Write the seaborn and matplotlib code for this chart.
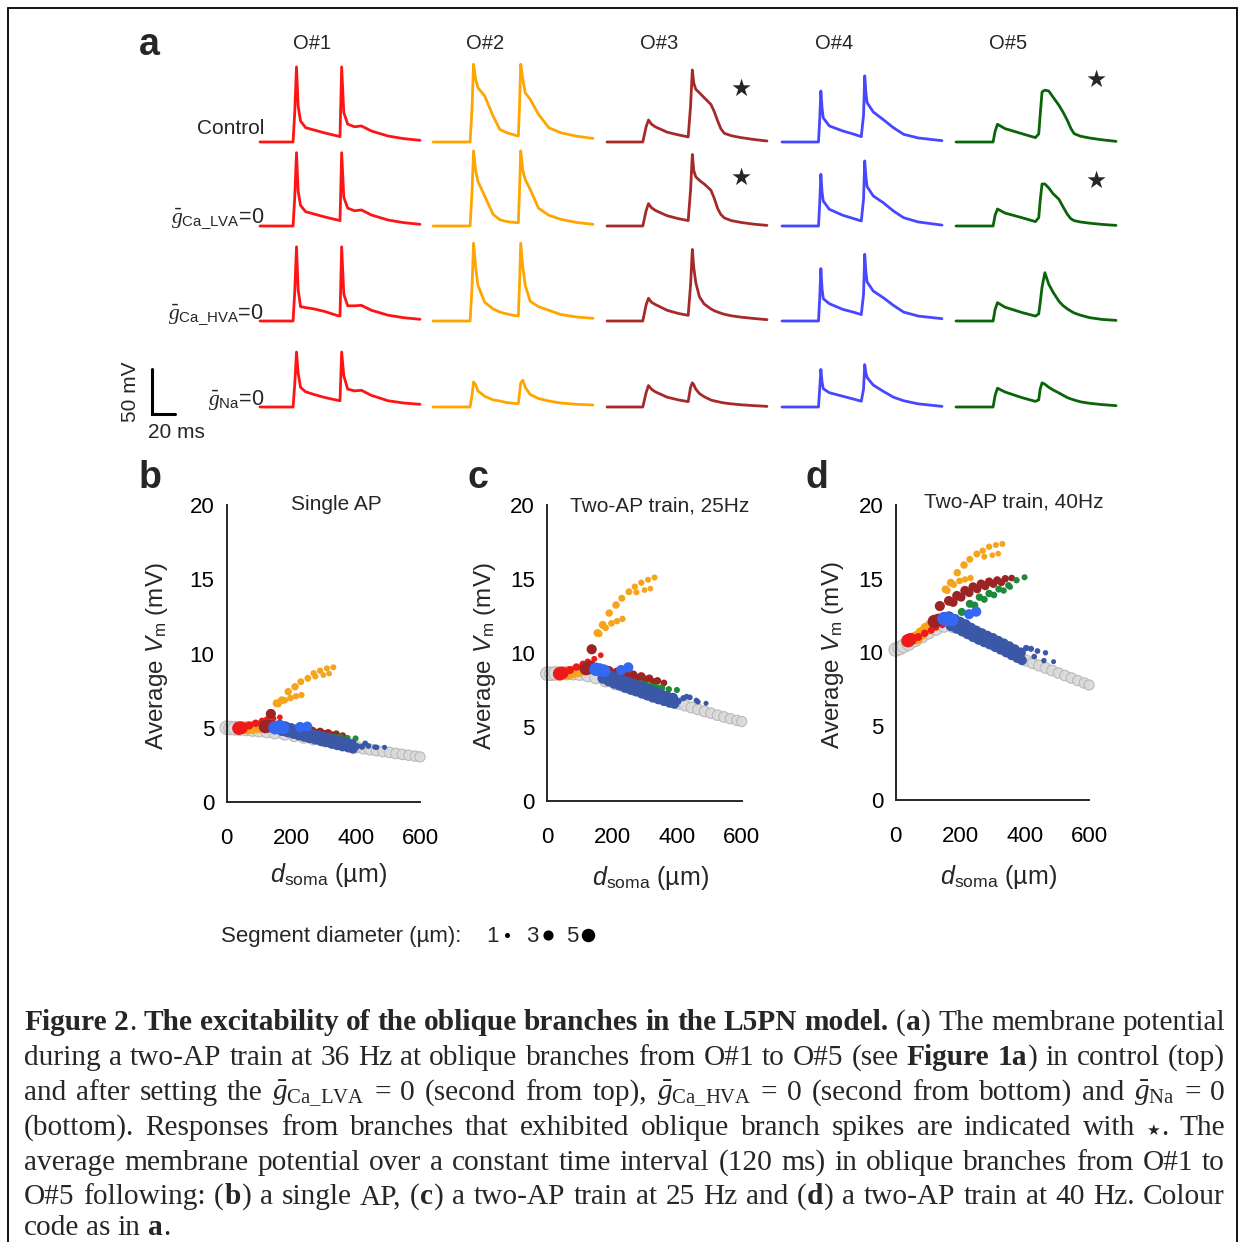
import re
import numpy as np
import pandas as pd
import matplotlib
matplotlib.use("Agg")
import matplotlib.pyplot as plt
from matplotlib.lines import Line2D
from matplotlib.patches import Rectangle
import seaborn as sns

W, H = 1238, 1242

# ---------------- panel a: traces, mV above rest vs time (ms) ----------------
o1_t = [0, 27.9, 29.3, 30.8, 32.2, 34.2, 38.5, 45.6, 55, 65.5, 67.5, 68.9, 70.7, 74, 79.8, 85.5, 94, 108, 121, 135]
o1_control = [0, 0, 33, 84, 40, 23.5, 16, 13.4, 10, 6.7, 6, 84, 33, 20, 17, 18, 12.3, 6.7, 3.8, 1.9]
o1_lva = [0, 0, 32, 82, 39, 23, 16, 13.4, 10, 6.7, 6, 82, 32, 20, 17, 18, 12.3, 6.7, 3.8, 1.9]
o1_hva = [0, 0, 32, 83, 35, 16, 15, 13.5, 10.5, 6, 5.6, 83, 30, 17, 17, 17.5, 12, 6.5, 3.7, 1.9]
o1_na = [0, 0, 25, 61.5, 38, 22, 17, 14, 10.5, 7.5, 7, 61.5, 35, 20, 18, 18.7, 13, 7, 4.5, 3]

o2_t = [0, 31.3, 33, 34.2, 36, 37.9, 43.6, 50.7, 56.4, 62, 69.5, 72, 73, 74, 75.8, 77.8, 82, 89, 97.7, 107.7, 121, 135]
o2_control = [0, 0, 40, 87, 70, 60.8, 51.5, 29, 14, 10.5, 7.5, 6.7, 40, 87, 70, 55, 47.8, 31, 16, 10.4, 6.5, 4]
o2_lva = [0, 0, 40, 84, 62, 50, 33.6, 13, 7, 5, 3.9, 3.7, 40, 84, 62, 52, 41, 20, 12, 7.5, 4, 1.9]
o2_hva = [0, 0, 40, 87, 60, 40, 21, 13.5, 10, 8, 6, 5.8, 40, 87, 60, 40, 22, 16, 12, 7.3, 4.5, 3]
o2_na = [0, 0, 14, 28, 25, 18, 12, 8, 6.7, 5, 4, 3.8, 15, 27, 30, 22, 14, 9.5, 6.7, 4.5, 3, 2.2]

o3_t = [0, 30.2, 33, 35, 37.5, 40.7, 50.7, 60, 68.5, 70.5, 72, 73.2, 74.9, 78, 82, 87.7, 90.5, 93.4, 96, 99, 105, 113, 124, 135]
o3_control = [0, 0, 17, 24.6, 20, 17, 11, 8, 5.7, 40, 80.6, 66, 59, 55, 49.6, 42, 34, 23.5, 15, 9.7, 7, 4.9, 2.8, 1.1]
o3_lva = [0, 0, 17, 25, 20.5, 17.5, 11.5, 8.3, 6, 40, 80, 62, 55, 51, 47, 40, 31, 19.4, 13, 9, 6, 4, 2, 0.7]
o3_hva = [0, 0, 18, 25.5, 21, 18.5, 12, 8.5, 6.3, 40, 80, 60, 43, 27, 19, 13.5, 11.5, 10, 8.8, 7.5, 5.8, 4.3, 2.8, 1.5]
o3_na = [0, 0, 16, 24, 20, 17, 11, 8, 6, 22, 27, 25, 20, 15, 11.5, 7.8, 6.8, 6, 5.2, 4.5, 3.5, 2.5, 1.5, 0.7]

o4_t = [0, 30.8, 31.8, 32.8, 33.8, 34.8, 39.9, 51.3, 60, 66.9, 68.8, 69.8, 70.8, 71.8, 77, 85.5, 94, 102.6, 115, 135]
o4_control = [0, 0, 25, 57, 38, 27, 18, 12.3, 9, 6, 30, 74, 55, 44, 33.6, 25, 16, 8.6, 4.5, 1.5]
o4_lva = [0, 0, 25, 57.8, 38, 28, 18.7, 12, 8.5, 5.6, 30, 72.8, 55, 44, 33.6, 26, 16.8, 9.3, 4.5, 1]
o4_hva = [0, 0, 25, 58.6, 36, 25, 19.4, 13, 10, 7.2, 30, 74.6, 55, 43.7, 33.5, 26, 17.5, 10, 5.5, 2.6]
o4_na = [0, 0, 20, 42, 28, 20.5, 16, 12, 9, 6.5, 20, 47.4, 38, 33, 24.5, 17.5, 11, 7, 3.5, 0.7]

o5_t = [0, 31.3, 33, 35, 41.3, 55.6, 67, 69.8, 71, 72.6, 75, 78.3, 82, 86.9, 90.5, 94, 97, 99.7, 105, 112.5, 123, 135]
o5_control = [0, 0, 12, 19.8, 15, 9.3, 4.9, 9, 30, 56, 58, 57, 50, 41, 33, 24, 15, 9.3, 6.5, 4.5, 2.5, 0.7]
o5_lva = [0, 0, 12, 19, 14.5, 9.3, 4.9, 9.3, 28, 47, 47, 42.5, 36, 29.8, 21, 13, 8, 6, 4.5, 3.2, 1.8, 0.7]
o5_hva = [0, 0, 13, 20.5, 15.5, 9.5, 5.5, 8, 20, 38, 54, 41, 32, 22, 17, 13.5, 11, 9, 6.5, 3.8, 1.8, 0.7]
o5_na = [0, 0, 13, 21, 16.8, 10.5, 6.3, 8, 20, 27, 25.5, 22, 19, 15.7, 13, 10.5, 9, 7.8, 5.8, 4.2, 2.7, 1.5]

branches = ["O#1", "O#2", "O#3", "O#4", "O#5"]
conditions = ["control", "lva", "hva", "na"]
row_labels = ["Control", r"$\bar{g}_{\mathrm{Ca\_LVA}}$=0",
              r"$\bar{g}_{\mathrm{Ca\_HVA}}$=0", r"$\bar{g}_{\mathrm{Na}}$=0"]
trace_t = {"O#1": o1_t, "O#2": o2_t, "O#3": o3_t, "O#4": o4_t, "O#5": o5_t}
traces = {
    "O#1": [o1_control, o1_lva, o1_hva, o1_na],
    "O#2": [o2_control, o2_lva, o2_hva, o2_na],
    "O#3": [o3_control, o3_lva, o3_hva, o3_na],
    "O#4": [o4_control, o4_lva, o4_hva, o4_na],
    "O#5": [o5_control, o5_lva, o5_hva, o5_na],
}
trace_colors = {"O#1": "#ff1414", "O#2": "#ffa500", "O#3": "#a52a2a",
                "O#4": "#4747ff", "O#5": "#0a640a"}
# traces showing an oblique branch spike (star)
spike_traces = {("control", "O#3"): (113, 59), ("lva", "O#3"): (113, 54),
                ("control", "O#5"): (118, 69), ("lva", "O#5"): (118, 50)}

# ---------------- panels b-d: average Vm vs distance from soma ----------------
# gray: other (trunk) segments
gray_d = [0, 12, 25, 40, 60, 80, 100, 125, 150, 180, 210, 240, 270, 300, 330, 360, 385,
          405, 425, 445, 465, 485, 505, 525, 545, 565, 585, 600]
gray_diam = [10, 9, 8, 6.5, 5.5, 5, 4.8, 4.6, 4.4, 4.2, 4, 4, 3.9, 3.8, 3.7, 3.6, 3.5,
             3.5, 3.4, 3.4, 3.3, 3.3, 3.2, 3.2, 3.2, 3.1, 3.1, 3]
gray_single = [5.0, 4.98, 4.96, 4.94, 4.92, 4.88, 4.83, 4.76, 4.68, 4.58, 4.47, 4.36, 4.25, 4.12,
               4.0, 3.85, 3.74, 3.68, 3.6, 3.53, 3.46, 3.4, 3.34, 3.27, 3.21, 3.15, 3.09, 3.04]
gray_25 = [8.6, 8.6, 8.62, 8.62, 8.64, 8.64, 8.6, 8.5, 8.35, 8.12, 7.92, 7.72, 7.52, 7.32,
           7.12, 6.9, 6.72, 6.58, 6.45, 6.32, 6.19, 6.06, 5.93, 5.8, 5.68, 5.56, 5.45, 5.37]
gray_40 = [10.2, 10.3, 10.45, 10.6, 10.85, 11.1, 11.35, 11.6, 11.8, 11.75, 11.5, 11.2, 10.95, 10.7,
           10.45, 10.15, 9.85, 9.45, 9.28, 9.12, 8.95, 8.78, 8.61, 8.44, 8.27, 8.1, 7.93, 7.8]

o2_d = [65, 80, 95, 110, 125,
        155, 171, 191, 212, 230, 252, 270, 290, 311, 331,
        160, 180, 198, 215, 232, 275, 300, 318]
o2_diam = [5, 4.5, 4.5, 4, 4,
           2, 2, 1.8, 1.8, 1.6, 1.6, 1.4, 1.4, 1.3, 1.3,
           1.6, 1.5, 1.5, 1.4, 1.4, 1.3, 1.2, 1.2]
o2_single = [5.0, 5.02, 5.05, 5.1, 5.15,
             6.65, 6.85, 7.43, 7.76, 8.1, 8.33, 8.67, 8.84, 9.0, 9.07,
             6.6, 6.85, 7.0, 7.12, 7.2, 8.45, 8.55, 8.65]
o2_25 = [8.65, 8.72, 8.8, 8.88, 8.95,
         11.35, 11.9, 12.7, 13.24, 13.7, 14.14, 14.48, 14.75, 14.95, 15.1,
         11.3, 11.7, 12.0, 12.15, 12.3, 14.1, 14.25, 14.35]
o2_40 = [11.0, 11.3, 11.6, 11.85, 12.05,
         14.28, 14.73, 15.41, 15.93, 16.32, 16.68, 16.9, 17.17, 17.29, 17.36,
         14.2, 14.6, 14.85, 14.95, 15.05, 16.5, 16.6, 16.7]

o1_d = [38, 46, 70, 90, 110, 125, 145, 165]
o1_diam = [5, 4.5, 2, 1.8, 1.6, 1.5, 1.3, 1.2]
o1_single = [4.97, 5.0, 5.15, 5.3, 5.45, 5.55, 5.62, 5.7]
o1_25 = [8.6, 8.65, 8.85, 9.05, 9.25, 9.4, 9.6, 9.85]
o1_40 = [10.8, 10.9, 11.05, 11.3, 11.5, 11.7, 11.85, 12.0]

o3_d = [120, 132, 137,
        165, 190, 215, 240, 265, 290, 315, 340, 360,
        178, 203, 228, 253, 278, 303, 328]
o3_diam = [5, 4.5, 3,
           2.8, 2.7, 2.6, 2.5, 2.4, 2.2, 2, 1.8, 1.5,
           2.5, 2.4, 2.3, 2.2, 2.1, 2, 1.8]
o3_single = [5.08, 5.12, 5.93,
             4.97, 4.92, 4.88, 4.83, 4.78, 4.72, 4.64, 4.57, 4.47,
             4.85, 4.8, 4.75, 4.7, 4.65, 4.58, 4.5]
o3_25 = [8.95, 9.07, 10.25,
         8.9, 8.8, 8.7, 8.62, 8.52, 8.42, 8.28, 8.12, 7.98,
         8.7, 8.6, 8.5, 8.4, 8.3, 8.2, 8.05]
o3_40 = [12.1, 12.2, 13.15,
         13.5, 13.85, 14.2, 14.45, 14.65, 14.8, 14.9, 15.0, 15.05,
         13.4, 13.75, 14.05, 14.3, 14.5, 14.65, 14.75]

o5_d = [185, 205, 230, 260, 290, 320, 350, 375, 400, 245, 275, 305, 335, 355]
o5_diam = [2.2, 2, 2, 1.8, 1.8, 1.6, 1.5, 1.4, 1.3, 1.8, 1.6, 1.5, 1.4, 1.3]
o5_single = [4.7, 4.62, 4.55, 4.5, 4.45, 4.4, 4.35, 4.3, 4.28, 4.5, 4.47, 4.42, 4.38, 4.35]
o5_25 = [8.35, 8.25, 8.1, 8.0, 7.9, 7.75, 7.65, 7.55, 7.5, 8.05, 7.95, 7.85, 7.72, 7.65]
o5_40 = [12.3, 12.75, 13.3, 13.75, 14.0, 14.3, 14.55, 14.9, 15.1, 13.2, 13.6, 13.9, 14.2, 14.45]

# O#4 sub-branches (dense dark-blue band + distal dots)
o4b_d = [165, 182, 199, 216, 233, 250, 267, 284, 301, 318, 335, 352, 369, 388,
         172, 190, 207, 224, 241, 258, 275, 292, 309, 326, 343, 360, 377, 392,
         405, 420, 430, 440, 460, 465, 490]
o4b_diam = [3.8, 3.7, 3.6, 3.6, 3.5, 3.5, 3.4, 3.4, 3.3, 3.3, 3.2, 3.2, 3.1, 3,
            3.6, 3.6, 3.5, 3.5, 3.4, 3.4, 3.3, 3.3, 3.2, 3.2, 3.1, 3, 2.9, 2.8,
            1.4, 1.3, 1.2, 1.2, 1.1, 1.1, 1]
o4b_single = [5.14, 5.05, 4.94, 4.84, 4.74, 4.64, 4.55, 4.45, 4.36, 4.26, 4.16, 4.07, 3.99, 3.9,
              4.82, 4.73, 4.62, 4.52, 4.42, 4.32, 4.23, 4.13, 4.04, 3.94, 3.84, 3.75, 3.67, 3.58,
              3.75, 3.72, 3.95, 3.77, 3.7, 3.68, 3.68]
o4b_25 = [8.8, 8.58, 8.42, 8.27, 8.14, 8.01, 7.88, 7.76, 7.62, 7.48, 7.34, 7.2, 7.09, 6.97,
          8.3, 8.12, 7.96, 7.82, 7.68, 7.54, 7.42, 7.28, 7.14, 7.0, 6.88, 6.76, 6.64, 6.56,
          6.75, 6.95, 7.05, 7.0, 6.8, 6.7, 6.6]
o4b_40 = [12.4, 12.23, 12.05, 11.88, 11.65, 11.45, 11.28, 11.11, 10.96, 10.77, 10.6, 10.41, 10.21, 10.0,
          11.82, 11.65, 11.47, 11.27, 11.07, 10.89, 10.72, 10.57, 10.39, 10.21, 10.02, 9.82, 9.63, 9.47,
          10.3, 10.25, 9.72, 10.1, 9.45, 9.98, 9.38]

o4_d = [150, 162, 175, 228, 250]
o4_diam = [5, 5, 4.5, 3, 3]
o4_single = [5.0, 5.03, 5.0, 5.05, 5.08]
o4_25 = [8.9, 8.85, 8.8, 8.85, 9.03]
o4_40 = [12.3, 12.25, 12.2, 12.6, 12.77]

groups = [  # drawing order
    ("O#2", o2_d, o2_diam, o2_single, o2_25, o2_40),
    ("O#1", o1_d, o1_diam, o1_single, o1_25, o1_40),
    ("O#3", o3_d, o3_diam, o3_single, o3_25, o3_40),
    ("O#5", o5_d, o5_diam, o5_single, o5_25, o5_40),
    ("O#4 branch", o4b_d, o4b_diam, o4b_single, o4b_25, o4b_40),
    ("O#4", o4_d, o4_diam, o4_single, o4_25, o4_40),
]
dot_colors = {"O#1": "#ee1a1a", "O#2": "#f7a41d", "O#3": "#9c2424",
              "O#4": "#3468f2", "O#4 branch": "#3a57a8", "O#5": "#1f8a3a"}
panel_titles = ["Single AP", "Two-AP train, 25Hz", "Two-AP train, 40Hz"]
legend_diams = [1, 3, 5]
SMIN, SMAX = 13, 94  # marker area (pt^2) for 1 and 5 um


def dot_area(diam):
    return SMIN + (diam - 1) / 4 * (SMAX - SMIN)


# ---------------- style ----------------
sns.set_style("white")
plt.rcParams.update({
    "font.family": ["Liberation Sans", "DejaVu Sans"],
    "mathtext.fontset": "custom",
    "mathtext.rm": "Liberation Sans",
    "mathtext.it": "Liberation Serif:italic",
    "mathtext.sf": "Liberation Serif",
    "mathtext.tt": "Liberation Sans:italic",
    "mathtext.bf": "Liberation Sans:bold",
    "axes.linewidth": 1.4,
})

fig = plt.figure(figsize=(W / 100, H / 100), dpi=100)


def fx(x):
    return x / W


def fy(y):
    return 1 - y / H


# ---------------- panel a ----------------
col_start = [260, 433, 607, 782, 956]
row_base = [142, 226, 321, 407]
PX_MS = 160 / 135
PX_MV = 0.894
V_LO, V_HI = -3, 92
trace_axes = {}
for r, cond in enumerate(conditions):
    for c, br in enumerate(branches):
        left, base = col_start[c], row_base[r]
        ax = fig.add_axes([fx(left), fy(base - V_LO * PX_MV), 135 * PX_MS / W,
                           (V_HI - V_LO) * PX_MV / H])
        ax.set_xlim(0, 135)
        ax.set_ylim(V_LO, V_HI)
        ax.axis("off")
        sns.lineplot(x=trace_t[br], y=traces[br][r], ax=ax, color=trace_colors[br],
                     linewidth=2.0, estimator=None, sort=False)
        for line in ax.lines:
            line.set_clip_on(False)
        if (cond, br) in spike_traces:
            sx, sy = spike_traces[(cond, br)]
            ax.text(sx, sy, "★", ha="center", va="center", fontsize=17, family="DejaVu Sans")
        if r == 0:
            ax.text(44, 110, br, ha="center", va="center", fontsize=14.5)
        trace_axes[(r, c)] = ax

for r, lab in enumerate(row_labels):
    fig.text(fx(264), fy([134, 223, 319, 405][r]), lab, ha="right", va="baseline",
             fontsize=[15, 15.5, 15.5, 15.5][r])

# scale bar in the bottom-left trace axes
sb = trace_axes[(3, 0)]
x0, y0 = -91.5, -7.8
sb.plot([x0, x0, x0 + 20], [y0 + 50, y0, y0], color="black", lw=2.2, clip_on=False,
        solid_joinstyle="miter")
fig.text(fx(130), fy(392), "50 mV", rotation=90, ha="center", va="center", fontsize=15)
fig.text(fx(176), fy(432), "20 ms", ha="center", va="center", fontsize=15)

# ---------------- panels b-d ----------------
rects = [(226.7, 420, 802, 505), (547.3, 741.7, 801, 505), (895.7, 1089, 800, 505)]
title_pos = [(0.565, 1.0), (0.58, 0.997), (0.612, 1.01)]
ylab_x = [-0.36, -0.32, -0.324]
xlab_pos = [(0.524, -0.246), (0.533, -0.26), (0.534, -0.261)]
gray_vals = [gray_single, gray_25, gray_40]

for k in range(3):
    l, rgt, b, t = rects[k]
    ax = fig.add_axes([fx(l), fy(b), (rgt - l) / W, (b - t) / H])
    gdf = pd.DataFrame({"d": gray_d, "v": gray_vals[k], "diam": gray_diam})
    sns.scatterplot(data=gdf, x="d", y="v", size="diam", sizes=(SMIN, SMAX), size_norm=(1, 5),
                    color="#dadada", edgecolor="#b4b4b4", linewidth=0.8, alpha=0.9,
                    legend=False, clip_on=False, ax=ax)
    frames = []
    for name, d, diam, v1, v2, v3 in groups:
        frames.append(pd.DataFrame({"d": d, "v": [v1, v2, v3][k], "diam": diam, "branch": name}))
    cdf = pd.concat(frames, ignore_index=True)
    sns.scatterplot(data=cdf, x="d", y="v", hue="branch", palette=dot_colors, size="diam",
                    sizes=(SMIN, SMAX), size_norm=(1, 5), linewidth=0, legend=False,
                    clip_on=False, ax=ax)
    ax.set_xlim(0, 600)
    ax.set_ylim(0, 20)
    ax.set_xticks([0, 200, 400, 600])
    ax.set_yticks([0, 5, 10, 15, 20])
    ax.set_xlabel("")
    ax.set_ylabel("")
    sns.despine(ax=ax)
    ax.tick_params(axis="both", direction="out", length=7, width=1.3, labelsize=16, colors="black")
    ax.tick_params(axis="x", pad=12)
    ax.tick_params(axis="y", pad=2)
    ax.text(*title_pos[k], panel_titles[k], transform=ax.transAxes, ha="center", va="center",
            fontsize=15)
    ax.text(ylab_x[k], 0.49, r"Average $\mathtt{V}_{\mathrm{m}}$ (mV)", transform=ax.transAxes,
            rotation=90, ha="center", va="center", fontsize=17.5)
    ax.text(*xlab_pos[k], r"$\mathtt{d}_{\mathrm{soma}}$ (µm)", transform=ax.transAxes,
            ha="center", va="center", fontsize=18)

# panel letters
for letter, (px, py) in zip("abcd", [(149, 45), (150, 478), (478, 478), (817, 478)]):
    fig.text(fx(px), fy(py), letter, ha="center", va="center", fontsize=27, weight="bold")

# diameter legend
fig.text(fx(221), fy(942), "Segment diameter (µm):", ha="left", va="baseline", fontsize=16)
handles = [Line2D([], [], ls="none", marker="o", color="black", markeredgewidth=0,
                  markersize=np.sqrt(dot_area(dm))) for dm in legend_diams]
fig.legend(handles, [str(dm) for dm in legend_diams], loc="center left",
           bbox_to_anchor=(fx(486), fy(937)), ncol=3, frameon=False, markerfirst=False,
           handletextpad=0.15, columnspacing=0.6, handlelength=0.5, fontsize=16,
           borderpad=0, borderaxespad=0)

# ---------------- caption (justified) ----------------
caption_lines = [
    "**Figure 2**. **The excitability of the oblique branches in the L5PN model.** (**a**) The membrane potential",
    "during a two-AP train at 36 Hz at oblique branches from O#1 to O#5 (see **Figure 1a**) in control (top)",
    r"and after setting the $\bar{g}_{\mathsf{Ca\_LVA}}$ = 0 (second from top), $\bar{g}_{\mathsf{Ca\_HVA}}$ = 0 (second from bottom) and $\bar{g}_{\mathsf{Na}}$ = 0",
    "(bottom). Responses from branches that exhibited oblique branch spikes are indicated with ★. The",
    "average membrane potential over a constant time interval (120 ms) in oblique branches from O#1 to",
    "O#5 following: (**b**) a single AP, (**c**) a two-AP train at 25 Hz and (**d**) a two-AP train at 40 Hz. Colour",
    "code as in **a**.",
]
CAP_SIZE = 21.2
CAP_X0, CAP_X1 = 24, 1225
JOIN = 0.8  # px between joined runs of one word
cap_base = [1030, 1065, 1100, 1135, 1170, 1204, 1235]
renderer = fig.canvas.get_renderer()
bold = False
for i, line in enumerate(caption_lines):
    words = []
    for word in line.split(" "):
        runs = []
        for j, piece in enumerate(word.split("**")):
            if j:
                bold = not bold
            for sub in re.split("(★)", piece):
                if sub:
                    runs.append((sub, bold))
        words.append(runs)
    arts = []
    for runs in words:
        row = []
        for s, bb in runs:
            if s == "★":
                tx = fig.text(0, fy(cap_base[i]), s, fontsize=11, family="DejaVu Sans",
                              va="baseline")
            else:
                tx = fig.text(0, fy(cap_base[i]), s, fontsize=CAP_SIZE, family="Liberation Serif",
                              weight="bold" if bb else "normal", va="baseline")
            row.append(tx)
        arts.append(row)
    widths = [[tx.get_window_extent(renderer).width for tx in row] for row in arts]
    word_w = [sum(w) + JOIN * (len(w) - 1) for w in widths]
    total = sum(word_w)
    last = i == len(caption_lines) - 1
    gap = 7.0 if last else (CAP_X1 - CAP_X0 - total) / (len(arts) - 1)
    x = CAP_X0
    for row, ws in zip(arts, widths):
        for tx, w in zip(row, ws):
            tx.set_x(fx(x))
            x += w + JOIN
        x += gap - JOIN

# frame
fig.add_artist(Rectangle((fx(8), -0.05), (1236.5 - 8) / W, fy(8) + 0.05, transform=fig.transFigure,
                         fill=False, lw=1.3, ec="black"))

fig.savefig("out.png", dpi=100)
